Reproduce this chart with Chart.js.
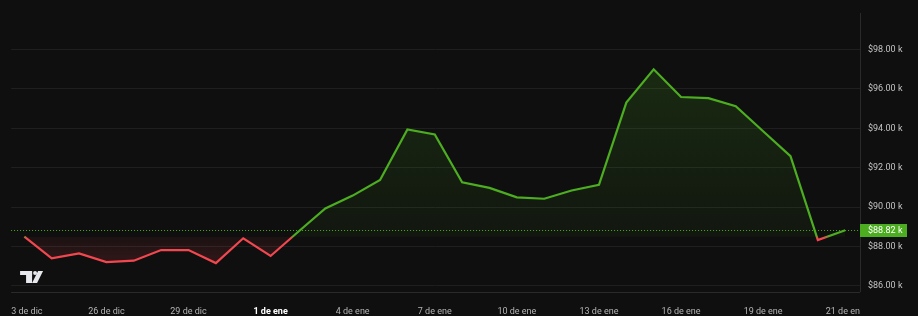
<!DOCTYPE html>
<html>
<head>
<meta charset="utf-8">
<script src="https://cdn.jsdelivr.net/npm/chart.js@4"></script>
<style>
  html, body { margin: 0; padding: 0; background: #0f0f0f; }
  canvas { display: block; }
</style>
</head>
<body>
<canvas id="grafico" width="918" height="316"></canvas>
<script>
// Precio diario (miles de USD), del 23 de dic al 21 de ene
const precios = [
  88.49, 87.39, 87.64, 87.20, 87.27, 87.81, 87.81, 87.15, 88.41, 87.51,
  88.73, 89.93, 90.58, 91.37, 93.94, 93.69, 91.26, 90.97, 90.49, 90.42,
  90.84, 91.13, 95.31, 97.00, 95.59, 95.53, 95.12, 93.85, 92.58, 88.32,
  88.82
];
// Línea base = primer precio; línea punteada = último precio
const precioBase = precios[0];
const ultimoPrecio = precios[precios.length - 1];

// Marcas del eje X (índice del punto) y sus textos
const marcasX = [0, 3, 6, 9, 12, 15, 18, 21, 24, 27, 30];
const etiquetasX = ['23 de dic', '26 de dic', '29 de dic', '1 de ene', '4 de ene', '7 de ene',
  '10 de ene', '13 de ene', '16 de ene', '19 de ene', '21 de ene'];
// Marcas del eje Y (miles)
const marcasY = [86, 88, 90, 92, 94, 96, 98];

const verde = '#4cad21';
const rojo = '#f2474f';
const fuente = 'Roboto, "Noto Sans", sans-serif';

// Pasa el valor base a fracción vertical del área del gráfico
function fraccionBase(chart) {
  const { chartArea, scales } = chart;
  const yb = scales.y.getPixelForValue(precioBase);
  return Math.min(1, Math.max(0, (yb - chartArea.top) / (chartArea.bottom - chartArea.top)));
}

function colorLinea(ctx) {
  const chart = ctx.chart;
  if (!chart.chartArea) return verde;
  const { top, bottom } = chart.chartArea;
  const f = fraccionBase(chart);
  const g = chart.ctx.createLinearGradient(0, top, 0, bottom);
  g.addColorStop(0, verde);
  g.addColorStop(f, verde);
  g.addColorStop(f, rojo);
  g.addColorStop(1, rojo);
  return g;
}

function colorRelleno(ctx) {
  const chart = ctx.chart;
  if (!chart.chartArea) return 'rgba(0,0,0,0)';
  const { top, bottom } = chart.chartArea;
  const f = fraccionBase(chart);
  const g = chart.ctx.createLinearGradient(0, top, 0, bottom);
  g.addColorStop(0, 'rgba(76,173,33,0.22)');
  g.addColorStop(f, 'rgba(76,173,33,0.05)');
  g.addColorStop(f, 'rgba(242,71,79,0.06)');
  g.addColorStop(1, 'rgba(242,71,79,0.26)');
  return g;
}

// Recorta los textos del eje X en los bordes, dibuja la línea punteada, la etiqueta de precio y el logo
const extras = {
  id: 'extras',
  beforeDraw(chart) {
    const { ctx, chartArea } = chart;
    ctx.save();
    ctx.beginPath();
    ctx.rect(chartArea.left, 0, chartArea.right - chartArea.left, chart.height);
    ctx.rect(chartArea.right, 0, chart.width - chartArea.right, chartArea.bottom);
    ctx.clip();
  },
  afterDatasetsDraw(chart) {
    const { ctx, chartArea, scales } = chart;
    const y = Math.round(scales.y.getPixelForValue(ultimoPrecio)) + 0.5;
    ctx.save();
    ctx.strokeStyle = verde;
    ctx.lineWidth = 1;
    ctx.setLineDash([1, 2]);
    ctx.beginPath();
    ctx.moveTo(chartArea.left, y);
    ctx.lineTo(chartArea.right, y);
    ctx.stroke();
    ctx.restore();
  },
  afterDraw(chart) {
    const { ctx, chartArea, scales } = chart;
    ctx.restore();
    const y = scales.y.getPixelForValue(ultimoPrecio);
    ctx.save();
    ctx.fillStyle = verde;
    ctx.fillRect(chartArea.right, Math.round(y) - 6, 47, 13);
    ctx.fillStyle = '#ffffff';
    ctx.font = '9px ' + fuente;
    ctx.textBaseline = 'middle';
    ctx.fillText('$' + ultimoPrecio.toFixed(2) + ' k', chartArea.right + 8, Math.round(y) + 0.5);

    // logo
    const lx = chartArea.left + 9, ly = chartArea.bottom - 21;
    ctx.fillStyle = '#e6e8ee';
    ctx.fillRect(lx, ly, 12, 4);
    ctx.fillRect(lx + 6, ly, 6, 12);
    ctx.beginPath();
    ctx.arc(lx + 15, ly + 2, 2, 0, Math.PI * 2);
    ctx.fill();
    ctx.beginPath();
    ctx.moveTo(lx + 18, ly);
    ctx.lineTo(lx + 23, ly);
    ctx.lineTo(lx + 17, ly + 12);
    ctx.lineTo(lx + 12, ly + 12);
    ctx.closePath();
    ctx.fill();
    ctx.restore();
  }
};

new Chart(document.getElementById('grafico').getContext('2d'), {
  type: 'line',
  data: {
    datasets: [{
      data: precios.map((v, i) => ({ x: i, y: v })),
      borderColor: colorLinea,
      backgroundColor: colorRelleno,
      borderWidth: 2.2,
      pointRadius: 0,
      tension: 0,
      fill: { target: { value: precioBase } }
    }]
  },
  options: {
    responsive: false,
    animation: false,
    devicePixelRatio: 1,
    layout: { padding: { left: 8, top: 13, right: 0, bottom: 0 }, autoPadding: false },
    plugins: { legend: { display: false }, tooltip: { enabled: false } },
    scales: {
      x: {
        type: 'linear',
        min: -0.484,
        max: 30.54,
        afterBuildTicks: s => { s.ticks = marcasX.map(v => ({ value: v })); },
        afterFit: s => { s.height = 24; },
        grid: { display: false },
        border: { display: true, color: '#2a2a2a', width: 1 },
        ticks: {
          autoSkip: false,
          maxRotation: 0,
          padding: 6,
          callback: v => etiquetasX[marcasX.indexOf(v)],
          color: c => (c.tick && c.tick.value === 9 ? '#ffffff' : '#b4b4b4'),
          font: c => ({ family: fuente, size: 9, weight: c.tick && c.tick.value === 9 ? 'bold' : 'normal' })
        }
      },
      y: {
        position: 'right',
        min: 85.68,
        max: 99.84,
        afterBuildTicks: s => { s.ticks = marcasY.map(v => ({ value: v })); },
        afterFit: s => { s.width = 58; },
        grid: { color: '#1f1f1f', drawTicks: false },
        border: { display: true, color: '#2a2a2a', width: 1 },
        ticks: {
          padding: 8,
          crossAlign: 'near',
          color: '#c4c4c4',
          font: { family: fuente, size: 9 },
          callback: v => '$' + v.toFixed(2) + ' k'
        }
      }
    }
  },
  plugins: [extras]
});
</script>
</body>
</html>
